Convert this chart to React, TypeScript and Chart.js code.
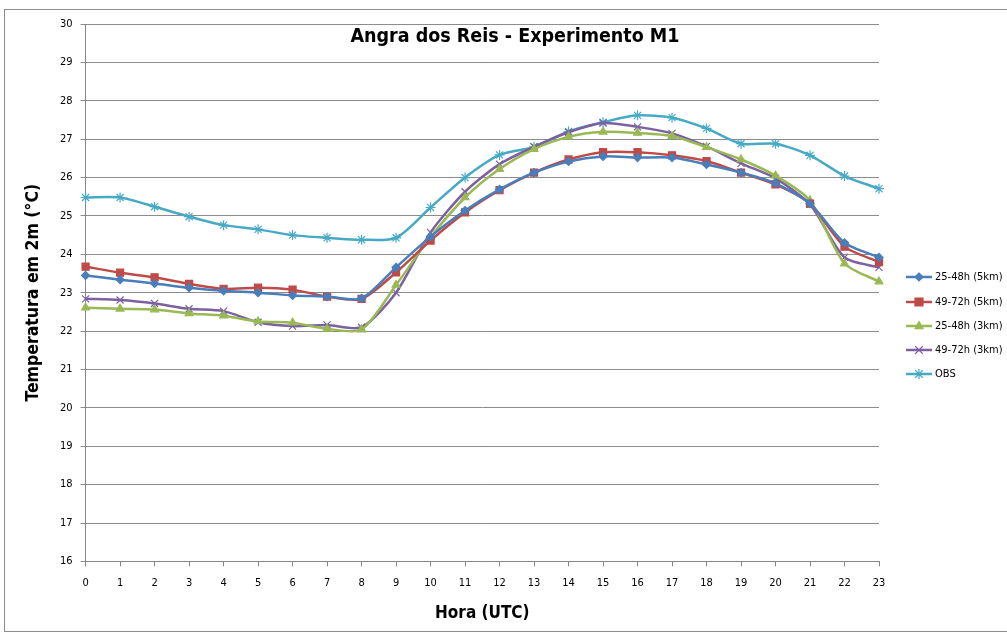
import React, { useEffect, useRef } from "react";
import { Chart, registerables } from "chart.js";

Chart.register(...registerables);

const hours = ["0","1","2","3","4","5","6","7","8","9","10","11","12","13","14","15","16","17","18","19","20","21","22","23"];
const s25_48_5km = [23.45,23.34,23.24,23.13,23.05,23.0,22.93,22.9,22.85,23.66,24.46,25.14,25.69,26.13,26.42,26.55,26.52,26.52,26.34,26.13,25.85,25.32,24.3,23.92];
const s49_72_5km = [23.68,23.52,23.4,23.23,23.1,23.13,23.08,22.9,22.84,23.53,24.36,25.09,25.67,26.13,26.47,26.66,26.66,26.58,26.43,26.13,25.82,25.32,24.2,23.8];
const s25_48_3km = [22.61,22.58,22.56,22.46,22.4,22.25,22.22,22.06,22.04,23.2,24.45,25.48,26.22,26.74,27.06,27.19,27.16,27.08,26.79,26.47,26.05,25.4,23.76,23.29];
const s49_72_3km = [22.84,22.81,22.72,22.58,22.52,22.23,22.13,22.16,22.1,23.0,24.57,25.63,26.35,26.8,27.18,27.42,27.32,27.15,26.81,26.37,25.98,25.3,23.92,23.66];
const obs = [25.48,25.48,25.24,24.98,24.76,24.65,24.5,24.43,24.38,24.43,25.22,26.0,26.59,26.8,27.2,27.44,27.62,27.56,27.28,26.88,26.88,26.58,26.04,25.71];
const seriesNames = ["25-48h (5km)","49-72h (5km)","25-48h (3km)","49-72h (3km)","OBS"];
const seriesColors = ["#4A7EBB","#BE4B48","#98B954","#7D60A0","#46AAC5"];
const seriesMarkers = ["rectRot","rect","triangle","crossRot","star"];
const seriesMarkerSize = [4,5,4.5,5,5];
const yTitle = "Temperatura em 2m (°C)";
const xTitle = "Hora (UTC)";
const chartTitle = "Angra dos Reis - Experimento M1";

const FONT = '"DejaVu Sans Condensed", "Liberation Sans", Arial, sans-serif';

function drawMarker(ctx: CanvasRenderingContext2D, style: string, r: number, x: number, y: number, color: string) {
  ctx.save();
  ctx.fillStyle = color;
  ctx.strokeStyle = color;
  ctx.lineWidth = 1.2;
  ctx.beginPath();
  if (style === "rectRot") {
    ctx.moveTo(x, y - r); ctx.lineTo(x + r, y); ctx.lineTo(x, y + r); ctx.lineTo(x - r, y); ctx.closePath();
    ctx.fill(); ctx.stroke();
  } else if (style === "rect") {
    const s = r * 0.8;
    ctx.rect(x - s, y - s, 2 * s, 2 * s); ctx.fill(); ctx.stroke();
  } else if (style === "triangle") {
    ctx.moveTo(x, y - r); ctx.lineTo(x + r * 0.9, y + r * 0.6); ctx.lineTo(x - r * 0.9, y + r * 0.6); ctx.closePath();
    ctx.fill(); ctx.stroke();
  } else if (style === "crossRot") {
    const s = r * 0.75;
    ctx.moveTo(x - s, y - s); ctx.lineTo(x + s, y + s); ctx.moveTo(x + s, y - s); ctx.lineTo(x - s, y + s); ctx.stroke();
  } else {
    const s = r * 0.75;
    ctx.moveTo(x - s, y - s); ctx.lineTo(x + s, y + s); ctx.moveTo(x + s, y - s); ctx.lineTo(x - s, y + s);
    ctx.moveTo(x, y - r); ctx.lineTo(x, y + r); ctx.moveTo(x - r, y); ctx.lineTo(x + r, y); ctx.stroke();
  }
  ctx.restore();
}

export default function App() {
  const ref = useRef<HTMLCanvasElement | null>(null);
  useEffect(() => {
    if (!ref.current) return;
    const data = [s25_48_5km, s49_72_5km, s25_48_3km, s49_72_3km, obs];
    const decor = {
      id: "decor",
      afterDraw(chart: any) {
        const ctx = chart.ctx;
        ctx.save();
        ctx.strokeStyle = "#8c8c8c";
        ctx.lineWidth = 1;
        ctx.strokeRect(4.5, 9.5, 1100, 622);
        ctx.fillStyle = "#000";
        ctx.font = "bold 19.5px " + FONT;
        ctx.textAlign = "center";
        ctx.textBaseline = "middle";
        ctx.fillText(chartTitle, 515, 37);
        const ys = [277, 302, 326, 350, 374];
        ctx.font = "11px " + FONT;
        ctx.textAlign = "left";
        seriesNames.forEach((name, i) => {
          const y = ys[i];
          ctx.strokeStyle = seriesColors[i];
          ctx.lineWidth = 2.5;
          ctx.beginPath();
          ctx.moveTo(906, y);
          ctx.lineTo(932, y);
          ctx.stroke();
          drawMarker(ctx, seriesMarkers[i], seriesMarkerSize[i], 919, y, seriesColors[i]);
          ctx.fillStyle = "#000";
          ctx.fillText(name, 935, y);
        });
        ctx.restore();
      },
    };
    const chart = new Chart(ref.current, {
      type: "line",
      data: {
        labels: hours,
        datasets: data.map((d, i) => ({
          label: seriesNames[i],
          data: d,
          borderColor: seriesColors[i],
          backgroundColor: seriesColors[i],
          pointBorderColor: seriesColors[i],
          pointBackgroundColor: seriesColors[i],
          pointStyle: seriesMarkers[i] as any,
          pointRadius: seriesMarkerSize[i],
          pointBorderWidth: 1.2,
          borderWidth: 2.5,
          tension: 0.25,
        })),
      },
      options: {
        animation: false,
        responsive: false,
        layout: { padding: { top: 24, left: 19, right: 128, bottom: 7 } },
        plugins: {
          legend: { display: false },
          tooltip: { enabled: false },
          title: { display: false },
        },
        scales: {
          x: {
            offset: false,
            grid: { display: true, drawOnChartArea: false, drawTicks: true, tickLength: 5, color: "#868686" },
            border: { color: "#868686" },
            ticks: { color: "#000", font: { family: FONT, size: 11 }, padding: 10, maxRotation: 0, autoSkip: false },
            title: { display: true, text: xTitle, color: "#000", font: { family: FONT, size: 17, weight: "bold" }, padding: { top: 4 } },
          },
          y: {
            min: 16,
            max: 30,
            grid: { color: "#8c8c8c", tickLength: 5 },
            border: { color: "#868686" },
            ticks: { stepSize: 1, color: "#000", font: { family: FONT, size: 11 }, padding: 8 },
            title: { display: true, text: yTitle, color: "#000", font: { family: FONT, size: 17.5, weight: "bold" }, padding: { bottom: 8 } },
          },
        },
      },
      plugins: [decor],
    });
    return () => chart.destroy();
  }, []);
  return (
    <div style={{ position: "absolute", left: 0, top: 0, width: 1007, height: 635, background: "#fff" }}>
      <canvas ref={ref} width={1007} height={635} style={{ width: 1007, height: 635 }} />
    </div>
  );
}
